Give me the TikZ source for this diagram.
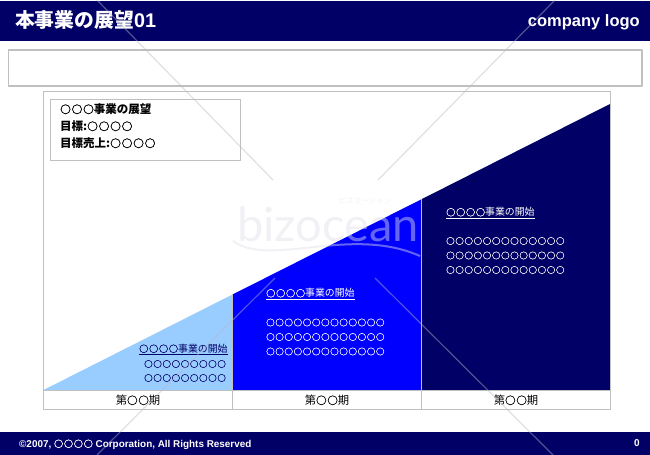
\documentclass[tikz,border=0pt]{standalone}
\usepackage{fontspec}
\setmainfont{Liberation Sans}
\newfontfamily\cjk{Noto Sans CJK JP}
\newfontfamily\ringfont[Scale=0.93,LetterSpace=7.5,FakeBold=1]{Noto Sans CJK JP}
\newfontfamily\wmfont{Lato}
\newcommand{\rings}[1]{{\ringfont #1}}
\definecolor{navycol}{HTML}{000066}
\definecolor{bluecol}{HTML}{0000FF}
\definecolor{skycol}{HTML}{99CCFF}
\definecolor{edgecol}{HTML}{C0C0C0}
\definecolor{markcol}{HTML}{B8B8C8}
\definecolor{wordcol}{HTML}{E0E0E8}
\tikzset{
  framebox/.style={draw=edgecol,line width=0.8bp},
  bartext/.style={text=white,font=\bfseries,inner sep=0pt},
  infotext/.style={anchor=west,inner sep=0pt,font=\cjk\bfseries\fontsize{11.5bp}{12bp}\selectfont},
  headtext/.style={anchor=west,inner sep=0pt,font=\cjk\fontsize{9.9bp}{11bp}\selectfont},
  rowtext/.style={anchor=west,inner sep=0pt,font=\cjk\fontsize{9.15bp}{10bp}\selectfont},
  periodtext/.style={inner sep=0pt,font=\cjk\fontsize{11.3bp}{12bp}\selectfont},
  markline/.style={draw=markcol,line width=1.2bp,opacity=0.45},
  marktext/.style={text=wordcol,opacity=0.45,inner sep=0pt}
}
\begin{document}
\begin{tikzpicture}[x=1bp,y=-1bp,line join=bevel]
  \useasboundingbox (0,0) rectangle (650,455);
  % Bars
  \fill [navycol] (0,1) rectangle (650,41);
  \fill [navycol] (0,432) rectangle (650,455);
  \draw [framebox,line width=1.2bp] (8.5,50) rectangle (642,86);
  % Wedge
  \fill [skycol] (43.5,390) -- (232.5,294.5) -- (232.5,390) -- cycle;
  \fill [bluecol] (232.5,294.5) -- (421,199.5) -- (421,390) -- (232.5,390) -- cycle;
  \fill [navycol] (421,199.5) -- (610,104) -- (610,390) -- (421,390) -- cycle;
  % Frame
  \draw [framebox] (43.5,91) rectangle (610,409);
  \draw [framebox] (43.5,390) -- (610,390);
  \draw [framebox] (232.5,294.5) -- (232.5,409);
  \draw [framebox] (421,199.5) -- (421,409);
  \draw [framebox] (50.5,99.5) rectangle (240.5,160.5);
  % Node: titles
  \node (title) [bartext,anchor=west] at (15,20.5) {\fontsize{19.8bp}{21bp}\selectfont{\cjk\bfseries 本事業の展望}01};
  \node (logo) [bartext,anchor=east] at (640,22) {\fontsize{16.5bp}{18bp}\selectfont company logo};
  \node (copyright) [bartext,anchor=west] at (19,444.5) {\fontsize{9.9bp}{11bp}\selectfont ©2007, \rings{○○○○} Corporation, All Rights Reserved};
  \node (page) [bartext] at (637,443) {\fontsize{10bp}{11bp}\selectfont 0};
  % Node: info
  \node (info1) [infotext] at (60,109) {\rings{○○○}事業の展望};
  \node (info2) [infotext] at (60,126) {目標:\rings{○○○○}};
  \node (info3) [infotext] at (60,143) {目標売上:\rings{○○○○}};
  % Node: first period
  \node (headA) [headtext,text=navycol] at (139,349.5) {\underline{\rings{○○○○}事業の開始}};
  \node (rowA1) [rowtext,text=navycol] at (144,364) {\rings{○○○○○○○○○}};
  \node (rowA2) [rowtext,text=navycol] at (144,378) {\rings{○○○○○○○○○}};
  % Node: second period
  \node (headB) [headtext,text=white] at (266,294) {\underline{\rings{○○○○}事業の開始}};
  \node (rowB1) [rowtext,text=white] at (266,322.5) {\rings{○○○○○○○○○○○○○}};
  \node (rowB2) [rowtext,text=white] at (266,337) {\rings{○○○○○○○○○○○○○}};
  \node (rowB3) [rowtext,text=white] at (266,351.5) {\rings{○○○○○○○○○○○○○}};
  % Node: third period
  \node (headC) [headtext,text=white] at (446,213) {\underline{\rings{○○○○}事業の開始}};
  \node (rowC1) [rowtext,text=white] at (446,241) {\rings{○○○○○○○○○○○○○}};
  \node (rowC2) [rowtext,text=white] at (446,255.5) {\rings{○○○○○○○○○○○○○}};
  \node (rowC3) [rowtext,text=white] at (446,270) {\rings{○○○○○○○○○○○○○}};
  % Node: period labels
  \node (periodA) [periodtext] at (138,400) {第\rings{○○}期};
  \node (periodB) [periodtext] at (327,400) {第\rings{○○}期};
  \node (periodC) [periodtext] at (516,400) {第\rings{○○}期};
  % Overlay mark
  \draw [markline] (97,0) -- (273,180);
  \draw [markline] (555,0) -- (378,180);
  \draw [markline] (275,278) -- (97,455);
  \draw [markline] (375,278) -- (553,455);
  \node (markword) [marktext,font=\wmfont\fontsize{47bp}{48bp}\selectfont] at (328,224) {bizocean};
  \node (markkana) [marktext,font=\cjk\fontsize{7.5bp}{8bp}\selectfont] at (365,201) {ビズオーシャン};
  \draw [draw=wordcol,line width=2bp,opacity=0.45] (233,241) .. controls (270,268) and (350,225) .. (420,256);
\end{tikzpicture}
\end{document}
